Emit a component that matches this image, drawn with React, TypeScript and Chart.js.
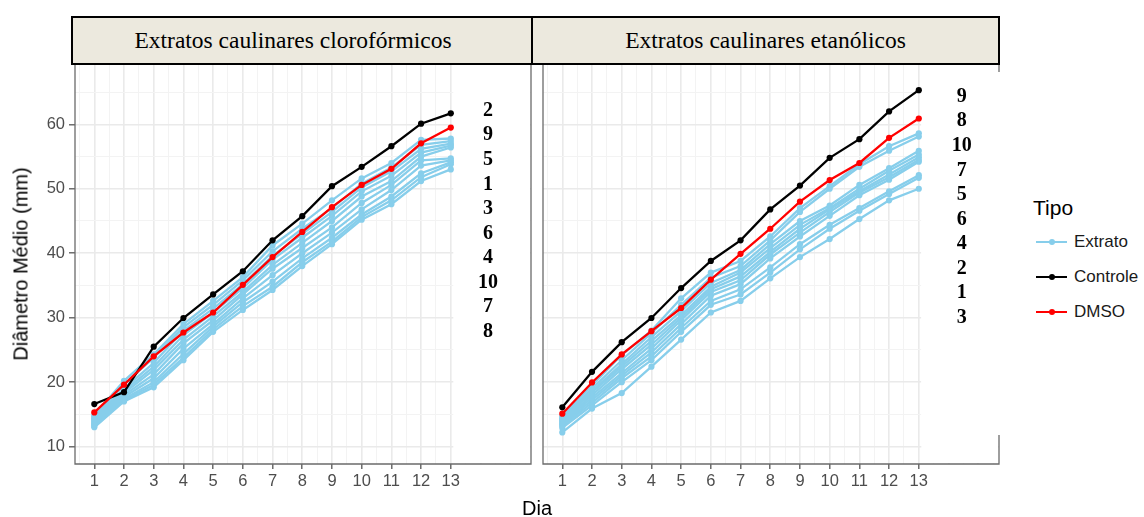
import React, { useEffect, useRef } from "react";
import { Chart, registerables } from "chart.js";

Chart.register(...registerables);

// ---------- DATA ----------
const days = [1, 2, 3, 4, 5, 6, 7, 8, 9, 10, 11, 12, 13];
const yTickValues = [10, 20, 30, 40, 50, 60];

const panelTitles = ["Extratos caulinares clorofórmicos", "Extratos caulinares etanólicos"];
const legendTitle = "Tipo";
const legendLabels = ["Extrato", "Controle", "DMSO"];
const xAxisTitle = "Dia";
const yAxisTitle = "Diâmetro Médio (mm)";

// Clorofórmicos (left panel)
const cloroControle = [16.6, 18.45, 25.5, 29.95, 33.6, 37.2, 42.0, 45.75, 50.4, 53.4, 56.6, 60.1, 61.7];
const cloroDMSO = [15.3, 19.6, 24.0, 27.7, 30.8, 35.1, 39.4, 43.3, 47.15, 50.6, 53.1, 57.05, 59.5];
const cloroExt1 = [14.9, 20.2, 24.3, 29.0, 32.6, 36.3, 41.2, 44.6, 48.2, 51.6, 54.0, 57.6, 57.8];
const cloroExt2 = [14.6, 19.6, 23.8, 28.5, 32.0, 35.8, 40.3, 43.8, 47.0, 50.8, 53.3, 56.8, 57.4];
const cloroExt3 = [14.4, 19.0, 23.0, 28.0, 31.4, 35.2, 39.6, 43.0, 46.4, 50.2, 52.7, 56.2, 57.0];
const cloroExt4 = [14.2, 18.6, 22.4, 27.3, 30.8, 34.6, 39.0, 42.4, 45.8, 49.6, 52.0, 55.6, 56.7];
const cloroExt5 = [14.0, 18.3, 21.9, 26.6, 30.2, 34.0, 38.2, 41.6, 45.0, 48.8, 51.2, 55.0, 56.4];
const cloroExt6 = [13.8, 18.0, 21.2, 26.0, 29.6, 33.6, 37.6, 40.8, 44.0, 47.8, 50.6, 54.4, 54.7];
const cloroExt7 = [13.6, 17.7, 20.6, 25.2, 29.0, 33.0, 36.6, 40.0, 43.2, 46.8, 49.8, 53.6, 54.4];
const cloroExt8 = [13.4, 17.4, 20.0, 24.4, 28.6, 32.4, 35.6, 39.2, 42.4, 46.0, 48.8, 52.4, 54.1];
const cloroExt9 = [13.2, 17.2, 19.6, 23.8, 28.2, 31.8, 34.8, 38.6, 41.8, 45.6, 48.2, 51.8, 53.8];
const cloroExt10 = [13.0, 17.0, 19.2, 23.4, 27.8, 31.2, 34.3, 38.0, 41.4, 45.2, 47.6, 51.2, 53.0];
const cloroRanking = ["2", "9", "5", "1", "3", "6", "4", "10", "7", "8"];

// Etanólicos (right panel)
const etanControle = [16.1, 21.6, 26.2, 29.95, 34.6, 38.8, 42.0, 46.8, 50.5, 54.8, 57.7, 62.0, 65.3];
const etanDMSO = [15.1, 19.95, 24.3, 27.9, 31.5, 35.9, 39.9, 43.8, 48.0, 51.35, 54.0, 57.9, 60.9];
const etanExt1 = [14.7, 19.5, 24.2, 28.0, 33.0, 37.0, 38.8, 42.6, 47.0, 50.4, 53.8, 56.6, 58.6];
const etanExt2 = [14.4, 19.0, 23.4, 27.6, 32.0, 36.2, 38.0, 42.0, 46.4, 50.0, 53.4, 55.9, 58.1];
const etanExt3 = [14.2, 18.6, 22.8, 27.0, 31.0, 35.4, 37.4, 41.4, 45.0, 47.4, 50.6, 53.2, 55.9];
const etanExt4 = [14.0, 18.4, 22.4, 26.4, 30.4, 34.8, 37.0, 40.8, 44.4, 47.0, 50.0, 52.8, 55.3];
const etanExt5 = [13.8, 18.0, 22.0, 25.8, 30.0, 34.4, 36.4, 40.2, 43.8, 46.8, 49.6, 52.2, 54.9];
const etanExt6 = [13.6, 17.6, 21.4, 25.2, 29.6, 34.0, 35.8, 39.8, 43.2, 46.4, 49.4, 51.8, 54.5];
const etanExt7 = [13.4, 17.2, 21.0, 24.6, 29.0, 33.4, 35.2, 39.2, 42.6, 45.8, 49.0, 51.4, 54.2];
const etanExt8 = [13.2, 16.8, 20.6, 24.0, 28.4, 32.6, 34.4, 37.8, 41.4, 44.4, 47.0, 49.6, 52.1];
const etanExt9 = [12.9, 16.4, 20.0, 23.4, 27.8, 32.0, 33.6, 37.0, 40.6, 43.8, 46.6, 49.2, 51.7];
const etanExt10 = [12.2, 15.9, 18.3, 22.4, 26.6, 30.8, 32.6, 36.1, 39.4, 42.2, 45.3, 48.2, 50.0];
const etanRanking = ["9", "8", "10", "7", "5", "6", "4", "2", "1", "3"];

const cloroExtratos = [cloroExt1, cloroExt2, cloroExt3, cloroExt4, cloroExt5, cloroExt6, cloroExt7, cloroExt8, cloroExt9, cloroExt10];
const etanExtratos = [etanExt1, etanExt2, etanExt3, etanExt4, etanExt5, etanExt6, etanExt7, etanExt8, etanExt9, etanExt10];

// ---------- STYLE ----------
const COLOR_EXT = "#87CEEB";
const COLOR_CTRL = "#000000";
const COLOR_DMSO = "#FF0000";
const TICK_COLOR = "#4D4D4D";
const SANS = "'Liberation Sans', Arial, sans-serif";
const SERIF = "'Liberation Serif', 'Times New Roman', serif";

const X_MIN = 0.35;
const X_MAX = 15.7;
const Y_MIN = 7.3;
const Y_MAX = 69.2;

const xGridValues = [0.5, ...days.flatMap((d) => [d, d + 0.5]), 14, 14.5, 15, 15.5];
const yGridValues = [...yTickValues.flatMap((v) => [v, v + 5])];

function toPoints(vals: number[]) {
  return days.map((d, i) => ({ x: d, y: vals[i] }));
}

function lineDataset(label: string, vals: number[], color: string, order: number) {
  return {
    label,
    data: toPoints(vals),
    borderColor: color,
    backgroundColor: color,
    borderWidth: 2.3,
    pointRadius: 3.1,
    pointBorderWidth: 0,
    pointHoverRadius: 3.1,
    tension: 0,
    order,
  };
}

type PanelOpts = {
  ranking: string[];
  rankDx: number;
  rankDy: number;
  showY: boolean;
  boxCoversRightBorder: boolean;
};

function makePanelPlugin(o: PanelOpts) {
  return {
    id: "panelDecor",
    beforeDatasetsDraw(chart: any) {
      const { ctx, chartArea: a, scales } = chart;
      const cutX = scales.x.getPixelForValue(13) + 2.5;
      ctx.save();
      ctx.strokeStyle = "#6B6B6B";
      ctx.lineWidth = 1.3;
      ctx.beginPath();
      ctx.moveTo(a.left, a.top);
      ctx.lineTo(a.left, a.bottom);
      ctx.lineTo(a.right, a.bottom);
      ctx.lineTo(a.right, a.top);
      ctx.stroke();
      ctx.fillStyle = "#FFFFFF";
      if (o.boxCoversRightBorder) {
        ctx.fillRect(cutX, a.top + 7, a.right - cutX + 3, a.bottom - a.top - 36);
        ctx.fillRect(cutX, a.top, a.right - cutX - 1, a.bottom - a.top - 1);
      } else {
        ctx.fillRect(cutX, a.top, a.right - cutX - 1, a.bottom - a.top - 1);
      }
      ctx.restore();
    },
    afterDraw(chart: any) {
      const { ctx, chartArea: a } = chart;
      ctx.save();
      ctx.fillStyle = "#000";
      ctx.font = `bold 20px ${SERIF}`;
      ctx.textAlign = "center";
      ctx.textBaseline = "middle";
      o.ranking.forEach((t, i) => {
        ctx.fillText(t, a.right - o.rankDx, a.top + o.rankDy + i * 24.55);
      });
      ctx.restore();
    },
  };
}

function zeroPad(s: any) {
  s.paddingTop = 0;
  s.paddingBottom = 0;
  s.paddingLeft = 0;
  s.paddingRight = 0;
}

function buildChart(canvas: HTMLCanvasElement, extratos: number[][], ctrl: number[], dmso: number[], o: PanelOpts, padRight: number, yWidth: number, xHeight: number) {
  const datasets: any[] = [];
  extratos.forEach((e, i) => datasets.push(lineDataset(`Extrato ${i + 1}`, e, COLOR_EXT, 3)));
  datasets.push(lineDataset("Controle", ctrl, COLOR_CTRL, 2));
  datasets.push(lineDataset("DMSO", dmso, COLOR_DMSO, 1));

  const isMajorX = (v: number) => Number.isInteger(v) && v <= 13;
  const isMajorY = (v: number) => v % 10 === 0;

  return new Chart(canvas, {
    type: "line",
    data: { datasets },
    plugins: [makePanelPlugin(o)],
    options: {
      responsive: false,
      animation: false,
      devicePixelRatio: 1,
      events: [],
      layout: { padding: { top: 5, right: padRight, left: 0, bottom: 0 } },
      plugins: { legend: { display: false }, tooltip: { enabled: false } },
      scales: {
        x: {
          type: "linear",
          min: X_MIN,
          max: X_MAX,
          afterBuildTicks: (s: any) => {
            s.ticks = xGridValues.map((v) => ({ value: v }));
          },
          afterFit: (s: any) => {
            s.height = xHeight;
            zeroPad(s);
          },
          border: { display: false },
          grid: {
            color: (c: any) => (Number.isInteger(c.tick?.value) ? "#EAEAEA" : "#F3F3F3"),
            lineWidth: (c: any) => (Number.isInteger(c.tick?.value) ? 1.6 : 1),
            tickColor: (c: any) => (isMajorX(c.tick?.value) ? "#555555" : "rgba(0,0,0,0)"),
            tickLength: 5,
            tickWidth: 1.3,
          },
          ticks: {
            autoSkip: false,
            maxRotation: 0,
            padding: 3,
            color: TICK_COLOR,
            font: { family: SANS, size: 16.5 },
            callback: (v: any) => (isMajorX(Number(v)) ? String(v) : ""),
          },
        },
        y: {
          type: "linear",
          min: Y_MIN,
          max: Y_MAX,
          afterBuildTicks: (s: any) => {
            s.ticks = yGridValues.map((v) => ({ value: v }));
          },
          afterFit: (s: any) => {
            s.width = yWidth;
            zeroPad(s);
          },
          border: { display: false },
          grid: {
            color: (c: any) => (isMajorY(c.tick?.value) ? "#EAEAEA" : "#F3F3F3"),
            lineWidth: (c: any) => (isMajorY(c.tick?.value) ? 1.6 : 1),
            tickColor: (c: any) => (o.showY && isMajorY(c.tick?.value) ? "#555555" : "rgba(0,0,0,0)"),
            drawTicks: o.showY,
            tickLength: 6,
            tickWidth: 1.3,
          },
          ticks: {
            display: o.showY,
            autoSkip: false,
            padding: 4,
            color: TICK_COLOR,
            font: { family: SANS, size: 16.5 },
            callback: (v: any) => (isMajorY(Number(v)) ? String(v) : ""),
          },
        },
      },
    } as any,
  });
}

export default function App() {
  const leftRef = useRef<HTMLCanvasElement>(null);
  const rightRef = useRef<HTMLCanvasElement>(null);

  useEffect(() => {
    const c1 = buildChart(
      leftRef.current!,
      cloroExtratos,
      cloroControle,
      cloroDMSO,
      { ranking: cloroRanking, rankDx: 43, rankDy: 45.7, showY: true, boxCoversRightBorder: false },
      9,
      75,
      53
    );
    const c2 = buildChart(
      rightRef.current!,
      etanExtratos,
      etanControle,
      etanDMSO,
      { ranking: etanRanking, rankDx: 37.3, rankDy: 31.7, showY: false, boxCoversRightBorder: true },
      9,
      10,
      53
    );
    return () => {
      c1.destroy();
      c2.destroy();
    };
  }, []);

  const stripBase: React.CSSProperties = {
    position: "absolute",
    top: 16,
    height: 49,
    boxSizing: "border-box",
    border: "2px solid #000",
    background: "#ECE9DE",
    fontFamily: SERIF,
    fontSize: 23.5,
    color: "#000",
    display: "flex",
    alignItems: "center",
    justifyContent: "center",
    zIndex: 2,
  };

  const legendRow = (label: string, color: string, top: number) => (
    <div key={label} style={{ position: "absolute", left: 1036, top: top - 12, height: 24, width: 110 }}>
      <div style={{ position: "absolute", left: 0, top: 11, width: 31, height: 2, background: color }} />
      <div style={{ position: "absolute", left: 12.5, top: 9, width: 6, height: 6, borderRadius: 3, background: color }} />
      <div style={{ position: "absolute", left: 38, top: 0, lineHeight: "24px", fontFamily: SANS, fontSize: 17, color: "#1A1A1A", whiteSpace: "nowrap" }}>
        {label}
      </div>
    </div>
  );

  return (
    <div style={{ position: "absolute", left: 0, top: 0, width: 1144, height: 517, background: "#fff", overflow: "hidden" }}>
      <canvas ref={leftRef} width={540} height={457} style={{ position: "absolute", left: 0, top: 60 }} />
      <canvas ref={rightRef} width={475} height={457} style={{ position: "absolute", left: 533, top: 60 }} />

      <div style={{ ...stripBase, left: 71, width: 462, paddingRight: 18 }}>{panelTitles[0]}</div>
      <div style={{ ...stripBase, left: 531, width: 469 }}>{panelTitles[1]}</div>

      <div
        style={{
          position: "absolute",
          left: 21,
          top: 264,
          transform: "translate(-50%, -50%) rotate(-90deg)",
          fontFamily: SANS,
          fontSize: 20,
          color: "#000",
          whiteSpace: "nowrap",
        }}
      >
        {yAxisTitle}
      </div>
      <div
        style={{
          position: "absolute",
          left: 537,
          top: 508,
          transform: "translate(-50%, -50%)",
          fontFamily: SANS,
          fontSize: 20,
          color: "#000",
          whiteSpace: "nowrap",
        }}
      >
        {xAxisTitle}
      </div>

      <div style={{ position: "absolute", left: 1033, top: 196, lineHeight: "24px", fontFamily: SANS, fontSize: 21, color: "#000" }}>
        {legendTitle}
      </div>
      {legendRow(legendLabels[0], COLOR_EXT, 242)}
      {legendRow(legendLabels[1], COLOR_CTRL, 277)}
      {legendRow(legendLabels[2], COLOR_DMSO, 312)}
    </div>
  );
}
